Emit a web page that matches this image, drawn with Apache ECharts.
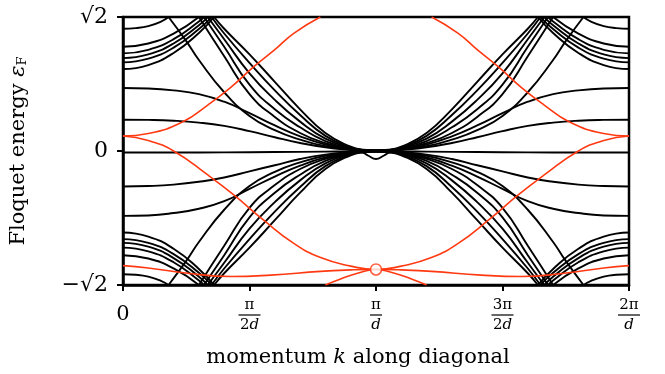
<!DOCTYPE html>
<html>
<head>
<meta charset="utf-8">
<script src="https://cdn.jsdelivr.net/npm/echarts@6/dist/echarts.min.js"></script>
<style>html,body{margin:0;padding:0;background:#fff}#c{width:665px;height:374px}</style>
</head>
<body>
<div id="c"></div>
<script>
// ---- axis ticks (k in units of pi/d, energy in units) ----
const xTicks = [0, 0.5, 1, 1.5, 2];
const xTickLabels = ['0', 'π/2d', 'π/d', '3π/2d', '2π/d'];
const yTickLabels = ['−√2', '0', '√2'];

// ---- black bands, left half (k from 0 to pi/d); right half is the mirror image ----
// bands starting in the upper part and rising to the top edge
const upRise1 = [[0,0.865],[0.1,0.907],[0.2,1.035],[0.3,1.246],[0.36,1.414]];
const upRise2 = [[0,0.935],[0.1,0.974],[0.2,1.091],[0.3,1.287],[0.35,1.414]];
const upRise3 = [[0,0.98],[0.1,1.019],[0.2,1.135],[0.3,1.328],[0.335,1.414]];
const upRise4 = [[0,1.03],[0.1,1.068],[0.2,1.18],[0.3,1.367],[0.32,1.414]];
const upRise5 = [[0,1.10],[0.1,1.135],[0.2,1.239],[0.3,1.414]];
const upRise6 = [[0,1.29],[0.05,1.297],[0.1,1.318],[0.15,1.365],[0.18,1.414]];
// their continuation entering from the bottom edge (lower fan)
const lowFan1 = [[0.36,-1.414],[0.4,-1.29],[0.5,-1.02],[0.6,-0.73],[0.7,-0.44],[0.8,-0.19],[0.9,-0.045],[0.95,-0.013],[1,-0.005]];
const lowFan2 = [[0.35,-1.414],[0.4,-1.24],[0.5,-0.93],[0.6,-0.64],[0.7,-0.38],[0.8,-0.16],[0.9,-0.038],[0.95,-0.011],[1,-0.005]];
const lowFan3 = [[0.335,-1.414],[0.4,-1.18],[0.5,-0.82],[0.6,-0.54],[0.7,-0.31],[0.8,-0.13],[0.9,-0.032],[0.95,-0.01],[1,-0.004]];
const lowFan4 = [[0.32,-1.414],[0.4,-1.10],[0.5,-0.70],[0.6,-0.44],[0.7,-0.25],[0.8,-0.105],[0.9,-0.026],[0.95,-0.008],[1,-0.004]];
const lowFan5 = [[0.30,-1.414],[0.4,-1.00],[0.5,-0.60],[0.6,-0.36],[0.7,-0.19],[0.8,-0.082],[0.9,-0.02],[0.95,-0.007],[1,-0.003]];
const lowFan6 = [[0.18,-1.414],[0.25,-1.16],[0.3,-0.96],[0.4,-0.62],[0.5,-0.37],[0.6,-0.22],[0.7,-0.12],[0.8,-0.05],[0.9,-0.014],[0.95,-0.005],[1,-0.002]];
// bands starting in the lower part and falling to the bottom edge
const downFall1 = [[0,-0.86],[0.1,-0.903],[0.2,-1.032],[0.3,-1.245],[0.36,-1.414]];
const downFall2 = [[0,-0.93],[0.1,-0.97],[0.2,-1.088],[0.3,-1.286],[0.35,-1.414]];
const downFall3 = [[0,-0.97],[0.1,-1.01],[0.2,-1.13],[0.3,-1.326],[0.335,-1.414]];
const downFall4 = [[0,-1.02],[0.1,-1.059],[0.2,-1.174],[0.3,-1.366],[0.32,-1.414]];
const downFall5 = [[0,-1.10],[0.1,-1.135],[0.2,-1.239],[0.3,-1.414]];
const downFall6 = [[0,-1.30],[0.05,-1.306],[0.1,-1.326],[0.15,-1.37],[0.18,-1.414]];
// their continuation entering from the top edge (upper fan)
const upFan1 = [[0.36,1.414],[0.4,1.29],[0.5,1.02],[0.6,0.73],[0.7,0.44],[0.8,0.19],[0.9,0.045],[0.95,0.013],[1,0.005]];
const upFan2 = [[0.35,1.414],[0.4,1.24],[0.5,0.93],[0.6,0.64],[0.7,0.38],[0.8,0.16],[0.9,0.038],[0.95,0.011],[1,0.005]];
const upFan3 = [[0.335,1.414],[0.4,1.18],[0.5,0.82],[0.6,0.54],[0.7,0.31],[0.8,0.13],[0.9,0.032],[0.95,0.01],[1,0.004]];
const upFan4 = [[0.32,1.414],[0.4,1.10],[0.5,0.70],[0.6,0.44],[0.7,0.25],[0.8,0.105],[0.9,0.026],[0.95,0.008],[1,0.004]];
const upFan5 = [[0.30,1.414],[0.4,1.00],[0.5,0.60],[0.6,0.36],[0.7,0.19],[0.8,0.082],[0.9,0.02],[0.95,0.007],[1,0.003]];
const upFan6 = [[0.18,1.414],[0.25,1.16],[0.3,0.96],[0.4,0.62],[0.5,0.37],[0.6,0.22],[0.7,0.12],[0.8,0.05],[0.9,0.014],[0.95,0.005],[1,0.002]];
// inner bands
const innerUp1 = [[0,0.33],[0.1,0.328],[0.2,0.32],[0.3,0.30],[0.4,0.265],[0.5,0.21],[0.6,0.145],[0.7,0.085],[0.8,0.038],[0.9,0.011],[0.95,0.004],[1,0.002]];
const innerUp2 = [[0,0.665],[0.1,0.66],[0.2,0.64],[0.3,0.60],[0.4,0.52],[0.5,0.40],[0.6,0.27],[0.7,0.155],[0.8,0.068],[0.9,0.018],[0.95,0.006],[1,0.003]];
const innerDown1 = [[0,-0.375],[0.1,-0.37],[0.2,-0.355],[0.3,-0.325],[0.4,-0.28],[0.5,-0.215],[0.6,-0.15],[0.7,-0.085],[0.8,-0.038],[0.9,-0.011],[0.95,-0.004],[1,-0.002]];
const innerDown2 = [[0,-0.685],[0.1,-0.68],[0.2,-0.655],[0.3,-0.61],[0.4,-0.53],[0.5,-0.40],[0.6,-0.27],[0.7,-0.155],[0.8,-0.068],[0.9,-0.018],[0.95,-0.006],[1,-0.003]];
const flatBand = [[0,-0.016],[0.2,-0.016],[0.4,-0.014],[0.6,-0.011],[0.8,-0.007],[0.9,-0.004],[0.94,-0.01],[0.97,-0.05],[1,-0.085]];

// ---- red (edge) states, left half ----
const redRiseTop = [[0,0.158],[0.1,0.185],[0.237,0.309],[0.335,0.485],[0.426,0.672],[0.517,0.89],[0.6,1.07],[0.675,1.242],[0.78,1.414]];
const redRiseBottom = [[0.8,-1.414],[0.86,-1.35],[0.93,-1.288],[1,-1.25]];
const redFall = [[0,0.158],[0.1,0.11],[0.2,0.0],[0.335,-0.253],[0.438,-0.464],[0.556,-0.73],[0.675,-0.975],[0.781,-1.125],[0.9,-1.215],[1,-1.25]];
const redLow = [[0,-1.21],[0.1,-1.235],[0.256,-1.29],[0.426,-1.325],[0.584,-1.31],[0.781,-1.27],[0.9,-1.255],[1,-1.25]];
const redPoint = [[1,-1.25]];

const blackSegs = [upRise1,upRise2,upRise3,upRise4,upRise5,upRise6,
  lowFan1,lowFan2,lowFan3,lowFan4,lowFan5,lowFan6,
  downFall1,downFall2,downFall3,downFall4,downFall5,downFall6,
  upFan1,upFan2,upFan3,upFan4,upFan5,upFan6,
  innerUp1,innerUp2,innerDown1,innerDown2,flatBand];
const redSegs = [redRiseTop, redRiseBottom, redFall, redLow];

const BLACK = '#000000', RED = '#ff3a12';
const FONT = 'DejaVu Serif';
const S2 = Math.SQRT2;

function mirror(seg){ return seg.slice().reverse().map(p => [2 - p[0], p[1]]); }
function buildSeries(segs, color, width, z){
  const out = [];
  segs.forEach(seg => {
    const pieces = (seg[seg.length-1][0] === 1) ? [seg.concat(mirror(seg).slice(1))] : [seg, mirror(seg)];
    pieces.forEach(d => out.push({
      type:'line', data:d, smooth:0.5, symbol:'none', silent:true, z:z,
      lineStyle:{color:color, width:width}, clip:true
    }));
  });
  return out;
}

const series = buildSeries(blackSegs, BLACK, 1.9, 2).concat(buildSeries(redSegs, RED, 1.6, 3));
series.push({type:'scatter', data:redPoint, symbol:'circle', symbolSize:11, z:4, silent:true,
  itemStyle:{color:'#ffffff', borderColor:RED, borderWidth:1.6}});

const chart = echarts.init(document.getElementById('c'), null, {renderer:'canvas'});
chart.setOption({
  animation:false,
  backgroundColor:'#ffffff',
  grid:{left:122, right:36, top:17, bottom:89, show:true, borderColor:'#000', borderWidth:2.5, backgroundColor:'transparent'},
  xAxis:{
    type:'value', min:0, max:2, interval:0.5,
    name:'momentum {i|k} along diagonal', nameLocation:'middle', nameGap:62,
    nameTextStyle:{fontFamily:FONT, fontSize:21, color:'#000', padding:[0,36,0,0],
      rich:{i:{fontFamily:FONT, fontSize:21, fontStyle:'italic', color:'#000'}}},
    axisLine:{show:true, onZero:false, lineStyle:{color:'#000', width:2.5}},
    axisTick:{show:true, inside:false, length:6, lineStyle:{color:'#000', width:2}},
    splitLine:{show:false},
    axisLabel:{
      margin:12, color:'#000', fontFamily:FONT,
      formatter:function(v){
        const i = xTicks.indexOf(Math.round(v*2)/2);
        const t = xTickLabels[i];
        if (t === '0') return '{z|0}';
        const parts = t.split('/');
        const den = parts[1].replace('d','');
        const bar = (parts[1].length > 1 || parts[0].length > 1) ? 'bw' : 'bn';
        return '{n|' + parts[0] + '}\n{' + bar + '|}\n{d|' + den + '}{di|d}';
      },
      rich:{
        z:{fontFamily:FONT, fontSize:21, lineHeight:36, color:'#000'},
        n:{fontFamily:FONT, fontSize:15, lineHeight:16, color:'#000', align:'center'},
        bw:{backgroundColor:'#000', width:22, height:1.2, lineHeight:4},
        bn:{backgroundColor:'#000', width:12, height:1.2, lineHeight:4},
        d:{fontFamily:FONT, fontSize:15, lineHeight:17, color:'#000'},
        di:{fontFamily:FONT, fontSize:15, lineHeight:17, fontStyle:'italic', color:'#000'}
      }
    }
  },
  yAxis:{
    type:'value', min:-S2, max:S2, interval:S2,
    name:'Floquet energy {e|ε}{s|F}', nameLocation:'middle', nameGap:94, nameRotate:90,
    nameTextStyle:{fontFamily:FONT, fontSize:21, color:'#000',
      rich:{e:{fontFamily:FONT, fontSize:21, fontStyle:'italic', color:'#000'},
            s:{fontFamily:FONT, fontSize:13, color:'#000', padding:[8,0,0,0]}}},
    axisLine:{show:true, onZero:false, lineStyle:{color:'#000', width:2.5}},
    axisTick:{show:true, inside:false, length:6, lineStyle:{color:'#000', width:2}},
    splitLine:{show:false},
    axisLabel:{margin:15, color:'#000', fontFamily:FONT, fontSize:22,
      formatter:function(v){ return v < -0.5 ? yTickLabels[0] : (v > 0.5 ? yTickLabels[2] : yTickLabels[1]); }}
  },
  series:series
});
</script>
</body>
</html>
